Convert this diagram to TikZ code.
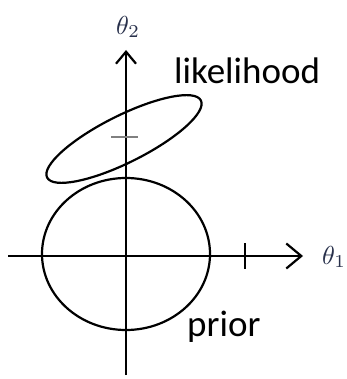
\documentclass[tikz,border=0pt]{standalone}
\usepackage{fontspec}
\setmainfont{Carlito}
\usetikzlibrary{arrows.meta}
\definecolor{thetacol}{RGB}{40,48,75}
\begin{document}
\begin{tikzpicture}[x=1pt,y=-1pt,
  curve/.style={line width=2.2pt},
  axis/.style={line width=2.2pt},
  lbl/.style={font=\fontsize{37}{42}\selectfont, inner sep=0pt, anchor=base west},
  thetalbl/.style={text=thetacol, inner sep=0pt}]
\useasboundingbox (0,0) rectangle (346,379);
% axes
\coordinate (ybot) at (126,375);
\coordinate (ytop) at (126,50);
\coordinate (xleft) at (8,256);
\coordinate (xright) at (303,256);
\draw[axis,-{Straight Barb[length=12pt,width=20pt,line width=2.2pt]}] (ybot) -- (ytop);
\draw[axis,-{Straight Barb[length=15pt,width=25pt,line width=2.2pt]}] (xleft) -- (xright);
% ticks
\coordinate (tx1) at (245,243);
\coordinate (tx2) at (245,269);
\draw[line width=1.6pt] (tx1) -- (tx2);
\coordinate (ty1) at (111,137);
\coordinate (ty2) at (138,137);
\draw[line width=2pt, gray] (ty1) -- (ty2);
% prior
\draw[curve] (126,254) ellipse [x radius=84, y radius=76];
% likelihood
\draw[curve] (124,139) ellipse [x radius=86, y radius=23.5, rotate=26.6];
% labels
\node[lbl] (lik) at (174,84) {likelihood};
\node[lbl] (pri) at (187,336) {prior};
\node[thetalbl] (t2) at (128,27) {\scalebox{2.6}{$\theta_2$}};
\node[thetalbl] (t1) at (334,257) {\scalebox{2.6}{$\theta_1$}};
\end{tikzpicture}
\end{document}
